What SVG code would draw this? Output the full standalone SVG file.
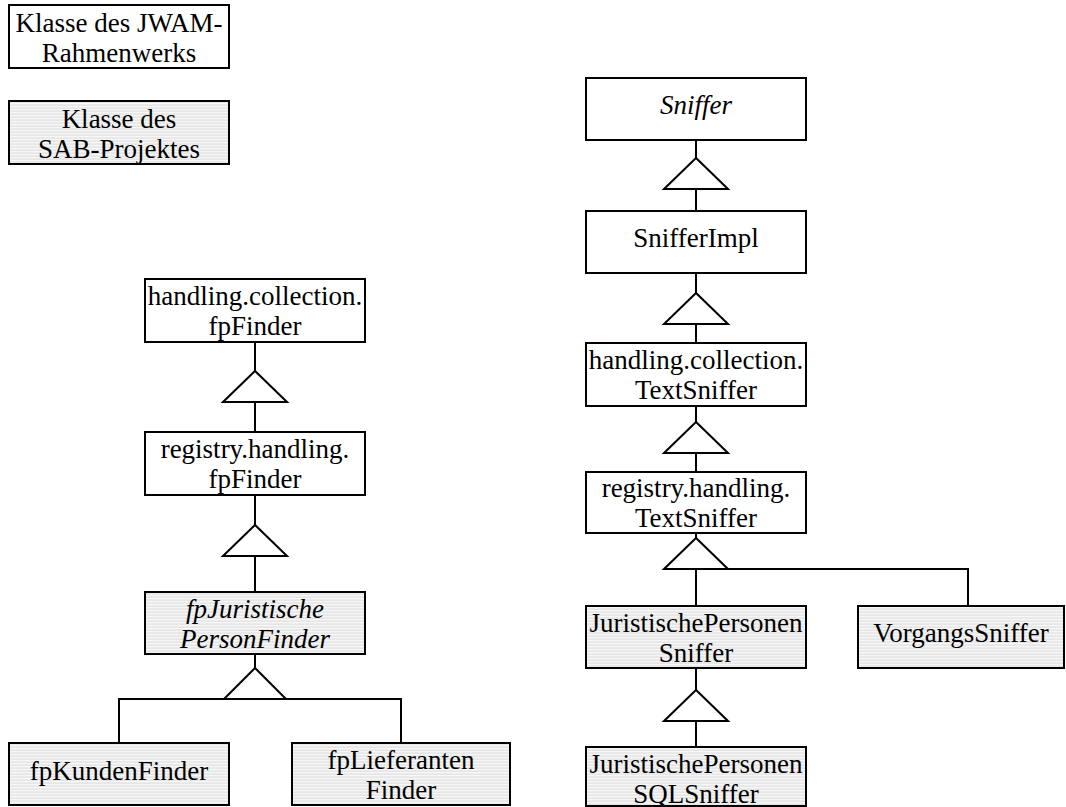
<svg xmlns="http://www.w3.org/2000/svg" width="1066" height="807" viewBox="0 0 1066 807">
  <style>
    .box { stroke: #000; stroke-width: 2; fill: #fff; }
    .sab { stroke: #000; stroke-width: 2; fill: url(#hatch); }
    .lbl { font-family: "Liberation Serif", "Times New Roman", Times, serif; font-size: 27px; fill: #000; text-anchor: middle; }
    .it { font-style: italic; }
    .edge { stroke: #000; stroke-width: 2; fill: none; }
    .gen { stroke: #000; stroke-width: 2; fill: #fff; stroke-linejoin: miter; }
  </style>
  <defs>
    <!-- fine horizontal striping used for project classes -->
    <pattern id="hatch" patternUnits="userSpaceOnUse" width="6" height="3">
      <rect width="6" height="3" fill="#e6e6e6"/>
      <rect y="1" width="6" height="1.3" fill="#f7f7f7"/>
    </pattern>
  </defs>

  <!-- legend -->
  <g id="legend-jwam">
    <rect class="box" x="9" y="5" width="220" height="63"/>
    <text class="lbl" x="119" y="32">Klasse des JWAM-</text>
    <text class="lbl" x="119" y="62">Rahmenwerks</text>
  </g>
  <g id="legend-sab">
    <rect class="sab" x="9" y="101" width="220" height="63"/>
    <text class="lbl" x="119" y="128">Klasse des</text>
    <text class="lbl" x="119" y="158">SAB-Projektes</text>
  </g>

  <!-- connectors -->
  <g id="connectors">
    <!-- finder hierarchy -->
    <path class="edge" d="M255 342 V371 M255 402 V432 M255 495 V525 M255 556 V592 M255 654 V668"/>
    <path class="edge" d="M119 743 V699 H401 V743"/>
    <polygon class="gen" points="255,371 223,402 287,402"/>
    <polygon class="gen" points="255,525 223,556 287,556"/>
    <polygon class="gen" points="255,668 224,699 286,699"/>

    <!-- sniffer hierarchy -->
    <path class="edge" d="M696 140 V158 M696 189 V211 M696 273 V293 M696 324 V343 M696 406 V422 M696 453 V472 M696 533 V538 M696 668 V690 M696 721 V747"/>
    <path class="edge" d="M696 606 V569 H968 V606"/>
    <polygon class="gen" points="696,158 664,189 728,189"/>
    <polygon class="gen" points="696,293 664,324 728,324"/>
    <polygon class="gen" points="696,422 664,453 728,453"/>
    <polygon class="gen" points="696,538 664,569 728,569"/>
    <polygon class="gen" points="696,690 664,721 728,721"/>
  </g>

  <!-- finder classes -->
  <g id="hc-fpFinder">
    <rect class="box" x="145" y="279" width="220" height="63"/>
    <text class="lbl" x="255" y="305">handling.collection.</text>
    <text class="lbl" x="255" y="335">fpFinder</text>
  </g>
  <g id="rh-fpFinder">
    <rect class="box" x="145" y="432" width="220" height="63"/>
    <text class="lbl" x="255" y="458">registry.handling.</text>
    <text class="lbl" x="255" y="488">fpFinder</text>
  </g>
  <g id="fpJuristischePersonFinder">
    <rect class="sab" x="145" y="592" width="220" height="62"/>
    <text class="lbl it" x="255" y="618">fpJuristische</text>
    <text class="lbl it" x="255" y="648">PersonFinder</text>
  </g>
  <g id="fpKundenFinder">
    <rect class="sab" x="9" y="743" width="220" height="62"/>
    <text class="lbl" x="119" y="780">fpKundenFinder</text>
  </g>
  <g id="fpLieferantenFinder">
    <rect class="sab" x="292" y="743" width="218" height="62"/>
    <text class="lbl" x="401" y="769">fpLieferanten</text>
    <text class="lbl" x="401" y="799">Finder</text>
  </g>

  <!-- sniffer classes -->
  <g id="Sniffer">
    <rect class="box" x="586" y="78" width="220" height="62"/>
    <text class="lbl it" x="696" y="114">Sniffer</text>
  </g>
  <g id="SnifferImpl">
    <rect class="box" x="586" y="211" width="220" height="62"/>
    <text class="lbl" x="696" y="247">SnifferImpl</text>
  </g>
  <g id="hc-TextSniffer">
    <rect class="box" x="586" y="343" width="220" height="63"/>
    <text class="lbl" x="696" y="369">handling.collection.</text>
    <text class="lbl" x="696" y="399">TextSniffer</text>
  </g>
  <g id="rh-TextSniffer">
    <rect class="box" x="586" y="472" width="220" height="61"/>
    <text class="lbl" x="696" y="497">registry.handling.</text>
    <text class="lbl" x="696" y="527">TextSniffer</text>
  </g>
  <g id="JuristischePersonenSniffer">
    <rect class="sab" x="586" y="606" width="220" height="62"/>
    <text class="lbl" x="696" y="632">JuristischePersonen</text>
    <text class="lbl" x="696" y="662">Sniffer</text>
  </g>
  <g id="VorgangsSniffer">
    <rect class="sab" x="858" y="606" width="206" height="62"/>
    <text class="lbl" x="961" y="642">VorgangsSniffer</text>
  </g>
  <g id="JuristischePersonenSQLSniffer">
    <rect class="sab" x="586" y="747" width="220" height="59"/>
    <text class="lbl" x="696" y="773">JuristischePersonen</text>
    <text class="lbl" x="696" y="803">SQLSniffer</text>
  </g>
</svg>
